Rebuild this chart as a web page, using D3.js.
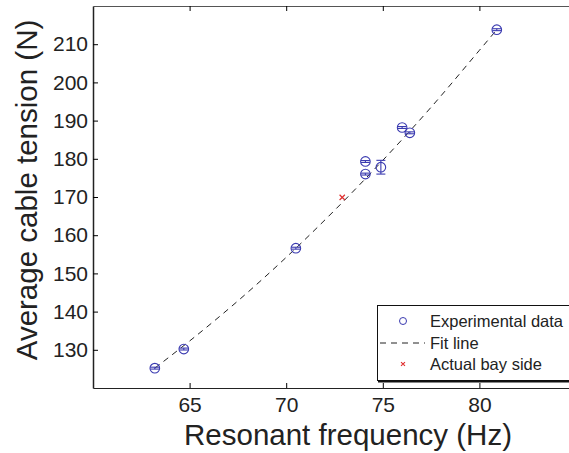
<!DOCTYPE html>
<html>
<head>
<meta charset="utf-8">
<script src="https://cdn.jsdelivr.net/npm/d3@7/dist/d3.min.js"></script>
<style>
  body { margin: 0; background: #fff; }
  svg text { font-family: "Liberation Sans", Arial, sans-serif; fill: #222; }
</style>
</head>
<body>
<svg id="chart" width="569" height="453"></svg>
<script>
// measured points (Hz, N) with small error bars on tension
const freq    = [63.2, 64.7, 70.5, 74.1, 74.1, 74.9, 76.0, 76.4, 80.9];
const tension = [125.2, 130.2, 156.6, 176.0, 179.3, 177.8, 188.2, 186.8, 213.8];
const errN    = [0.25, 0.25, 0.25, 0.25, 0.25, 1.8, 0.25, 0.25, 0.25];

// fit curve
const fitFreq    = [63.2, 65, 67.5, 70, 72.5, 75, 77.5, 80, 80.9];
const fitTension = [125.2, 132.3, 142.8, 154.2, 166.5, 179.6, 193.5, 208.4, 213.8];

// the bay-side value
const bayFreq = [72.9];
const bayTension = [169.9];

const xTicks = [65, 70, 75, 80];
const yTicks = [130, 140, 150, 160, 170, 180, 190, 200, 210];
const legendLabels = ["Experimental data", "Fit line", "Actual bay side"];

const W = 569, H = 453;
const padL = 93, padR = 576, padT = 6, padB = 388;

const svg = d3.select("#chart");
const x = d3.scaleLinear().domain([60, 85]).range([padL, padR]);
const y = d3.scaleLinear().domain([120, 220]).range([padB, padT]);

const blue = "#3a3ab0", red = "#e03030";

// axes box with inward ticks
svg.append("g")
    .attr("transform", "translate(0," + padB + ")")
    .call(d3.axisBottom(x).tickValues(xTicks).tickSizeInner(-5).tickSizeOuter(0).tickPadding(9))
    .call(g => g.selectAll("text").attr("font-size", 21))
    .call(g => g.select(".domain").attr("stroke", "#222"));

svg.append("g")
    .attr("transform", "translate(0," + padT + ")")
    .call(d3.axisTop(x).tickValues(xTicks).tickSizeInner(-5).tickSizeOuter(0).tickFormat(""))
    .call(g => g.select(".domain").attr("stroke", "#555"));

svg.append("g")
    .attr("transform", "translate(" + padL + ",0)")
    .call(d3.axisLeft(y).tickValues(yTicks).tickSizeInner(-5).tickSizeOuter(0).tickPadding(5))
    .call(g => g.selectAll("text").attr("font-size", 21))
    .call(g => g.select(".domain").attr("stroke", "#222").attr("stroke-width", 1.5));

// axis titles
svg.append("text")
    .attr("x", 348).attr("y", 445)
    .attr("text-anchor", "middle").attr("font-size", 29.5)
    .text("Resonant frequency (Hz)");

svg.append("text")
    .attr("transform", "translate(37,190) rotate(-90)")
    .attr("text-anchor", "middle").attr("font-size", 29.5)
    .text("Average cable tension (N)");

// fit line
const fitData = fitFreq.map((f, i) => [f, fitTension[i]]);
svg.append("path")
    .datum(fitData)
    .attr("fill", "none")
    .attr("stroke", "#222")
    .attr("stroke-width", 1)
    .attr("stroke-dasharray", "6,5")
    .attr("d", d3.line().x(d => x(d[0])).y(d => y(d[1])).curve(d3.curveMonotoneX));

// error bars + circles
const pts = freq.map((f, i) => ({ f: f, t: tension[i], e: errN[i] }));
const eb = svg.append("g").attr("stroke", blue).attr("fill", "none").attr("stroke-width", 1.1);
pts.forEach(d => {
    const cx = x(d.f);
    eb.append("line").attr("x1", cx).attr("x2", cx).attr("y1", y(d.t - d.e)).attr("y2", y(d.t + d.e));
    eb.append("line").attr("x1", cx - 4.5).attr("x2", cx + 4.5).attr("y1", y(d.t - d.e)).attr("y2", y(d.t - d.e));
    eb.append("line").attr("x1", cx - 4.5).attr("x2", cx + 4.5).attr("y1", y(d.t + d.e)).attr("y2", y(d.t + d.e));
});
eb.selectAll("circle")
    .data(pts)
    .join("circle")
    .attr("cx", d => x(d.f))
    .attr("cy", d => y(d.t))
    .attr("r", 4.8);

// red cross
const cross = d3.symbol().type(d3.symbolX).size(20);
svg.selectAll(".bay")
    .data(bayFreq.map((f, i) => [f, bayTension[i]]))
    .join("path")
    .attr("class", "bay")
    .attr("d", cross)
    .attr("transform", d => "translate(" + x(d[0]) + "," + y(d[1]) + ")")
    .attr("fill", "none")
    .attr("stroke", red)
    .attr("stroke-width", 1.2);

// legend
const lg = svg.append("g");
lg.append("rect")
    .attr("x", 377.5).attr("y", 305.5).attr("width", 200).attr("height", 75)
    .attr("fill", "#fff").attr("stroke", "#111").attr("stroke-width", 1);
lg.append("line").attr("x1", 378).attr("x2", 569).attr("y1", 381.5).attr("y2", 381.5)
    .attr("stroke", "#111").attr("stroke-width", 2);

const rowY = [321, 343, 364];
lg.append("circle").attr("cx", 403).attr("cy", rowY[0]).attr("r", 3.5)
    .attr("fill", "none").attr("stroke", blue).attr("stroke-width", 1);
lg.append("line").attr("x1", 380).attr("x2", 425).attr("y1", rowY[1]).attr("y2", rowY[1])
    .attr("stroke", "#222").attr("stroke-width", 1).attr("stroke-dasharray", "6,5");
lg.append("path").attr("d", d3.symbol().type(d3.symbolX).size(12))
    .attr("transform", "translate(403," + rowY[2] + ")")
    .attr("fill", "none").attr("stroke", red).attr("stroke-width", 1.1);

lg.selectAll(".lbl")
    .data(legendLabels)
    .join("text")
    .attr("class", "lbl")
    .attr("x", 430)
    .attr("y", (d, i) => rowY[i])
    .attr("dy", "0.35em")
    .attr("font-size", 16.5)
    .text(d => d);
</script>
</body>
</html>
